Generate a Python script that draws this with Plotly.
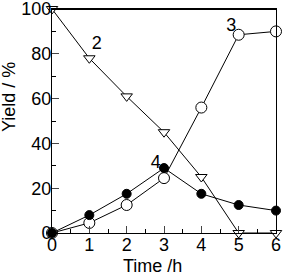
import plotly.graph_objects as go

time_h = [0, 1, 2, 3, 4, 5, 6]
yield_2 = [100, 78, 61, 45, 25, 0, 0]
yield_3 = [0, 4.5, 12.5, 24.5, 56, 88.5, 90]
yield_4 = [0, 8, 17.5, 29, 17.5, 12.5, 10]

labels = ["2", "3", "4"]
label_x = [1.2, 4.8, 2.78]
label_y = [84, 92, 31]

x_title = "Time /h"
y_title = "Yield / %"

L, R, T, B = 52, 7, 9, 42
W, H = 283, 275
pw, ph = W - L - R, H - T - B

def px_x(px):
    return (px - L) / pw

def px_y(py):
    return (H - B - py) / ph

fig = go.Figure()
line = dict(color="black", width=1)
fig.add_trace(go.Scatter(x=time_h, y=yield_2, mode="lines+markers", line=line,
                         marker=dict(symbol="triangle-down", size=10, color="white",
                                     line=dict(color="black", width=1)),
                         cliponaxis=False))
fig.add_trace(go.Scatter(x=time_h, y=yield_3, mode="lines+markers", line=line,
                         marker=dict(symbol="circle", size=11, color="white",
                                     line=dict(color="black", width=1)),
                         cliponaxis=False))
fig.add_trace(go.Scatter(x=time_h, y=yield_4, mode="lines+markers", line=line,
                         marker=dict(symbol="circle", size=9, color="black",
                                     line=dict(color="black", width=1)),
                         cliponaxis=False))
fig.add_trace(go.Scatter(x=label_x, y=label_y, mode="text", text=labels,
                         textfont=dict(size=18, color="black", family="Liberation Sans"),
                         cliponaxis=False))

fig.update_layout(
    width=W, height=H,
    margin=dict(l=L, r=R, t=T, b=B, autoexpand=False),
    paper_bgcolor="white", plot_bgcolor="white",
    showlegend=False,
    font=dict(family="Liberation Sans, Arial", size=18, color="black"),
    annotations=[
        dict(text=x_title, xref="paper", yref="paper", x=px_x(152), y=px_y(266),
             showarrow=False, xanchor="center", yanchor="middle",
             font=dict(size=18)),
        dict(text=y_title, xref="paper", yref="paper", x=px_x(9), y=px_y(97),
             showarrow=False, xanchor="center", yanchor="middle", textangle=-90,
             font=dict(size=18)),
    ],
    shapes=[dict(type="line", xref="paper", yref="paper", x0=0, x1=1, y0=1, y1=1,
                 line=dict(color="black", width=2))],
)
fig.update_xaxes(range=[0, 6], dtick=1, ticks="inside", ticklen=7, tickwidth=1,
                 showline=True, linecolor="black", linewidth=1, mirror=True,
                 showgrid=False, zeroline=False, automargin=False,
                 minor=dict(dtick=0.5, ticks="inside", ticklen=4, tickcolor="black"),
                 tickfont=dict(size=18), ticklabeloverflow="allow",
                 ticklabelstandoff=-5)
fig.update_yaxes(range=[0, 100], dtick=20, ticks="inside", ticklen=7, tickwidth=1,
                 showline=True, linecolor="black", linewidth=1, mirror=True,
                 showgrid=False, zeroline=False, automargin=False,
                 minor=dict(dtick=10, ticks="inside", ticklen=4, tickcolor="black"),
                 tickfont=dict(size=18), ticklabelstandoff=-4, ticklabeloverflow="allow")

fig.write_html("out.html", config={"displayModeBar": False},
               post_script="document.body.style.margin='0';document.body.style.padding='0';")
